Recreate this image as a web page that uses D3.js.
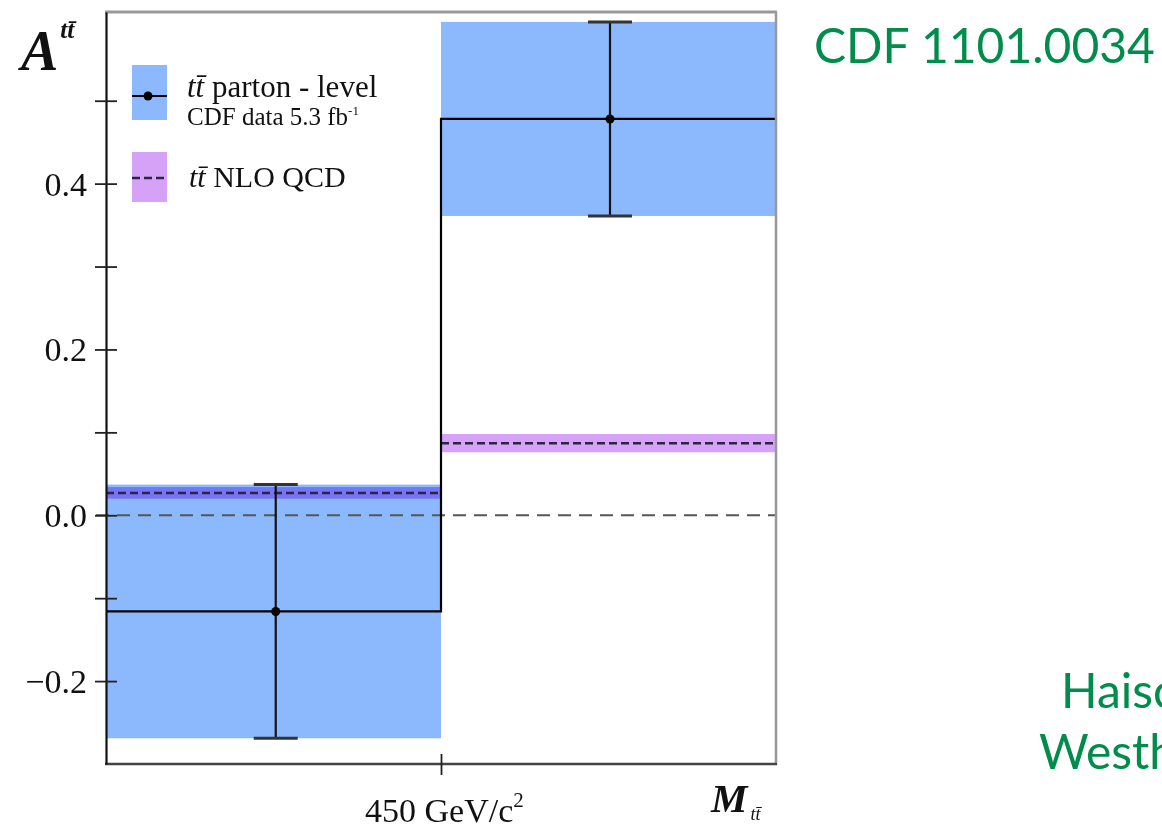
<!DOCTYPE html>
<html lang="en">
<head>
    <meta charset="UTF-8">
    <title>Top pair forward-backward asymmetry vs M_tt</title>
    <script src="https://d3js.org/d3.v7.min.js"></script>
    <style>
        body { margin: 0; background: #fff; }
        .serif { font-family: "Liberation Serif", "DejaVu Serif", serif; fill: #111; }
        .green { font-family: Lato, "Open Sans", sans-serif; fill: #008c4b; }
    </style>
</head>
<body>
<svg id="chart" width="1162" height="831"></svg>

<script>
    // mass bins (GeV/c^2)
    const binLo = [0, 450];
    const binHi = [450, 900];
    const pointX = [228, 677];
    // CDF parton-level asymmetry
    const asym = [-0.116, 0.478];
    const asymErr = [0.153, 0.117];
    // NLO QCD prediction
    const nlo = [0.027, 0.087];
    const nloErr = [0.007, 0.011];
    // y ticks
    const yTicks = [-0.2, -0.1, 0.0, 0.1, 0.2, 0.3, 0.4, 0.5];
    const yLabels = [-0.2, 0.0, 0.2, 0.4];
    const xTicks = [450];

    const svg = d3.select("#chart");

    const x = d3.scaleLinear().domain([0, 900]).range([106, 776]);
    const y = d3.scaleLinear().domain([-0.30, 0.607]).range([764, 12]);

    const bins = binLo.map((lo, i) => ({
        lo, hi: binHi[i], px: pointX[i],
        a: asym[i], e: asymErr[i], n: nlo[i], ne: nloErr[i]
    }));

    const blue = "#8cb8fd";
    const purple = "#d6a2f8";

    // data error bands
    svg.selectAll(".band")
        .data(bins)
        .enter().append("rect")
        .attr("class", "band")
        .attr("x", d => x(d.lo))
        .attr("width", d => x(d.hi) - x(d.lo))
        .attr("y", d => y(d.a + d.e))
        .attr("height", d => y(d.a - d.e) - y(d.a + d.e))
        .attr("fill", blue);

    // NLO bands
    svg.selectAll(".nloband")
        .data(bins)
        .enter().append("rect")
        .attr("class", "nloband")
        .attr("x", d => x(d.lo))
        .attr("width", d => x(d.hi) - x(d.lo))
        .attr("y", d => y(d.n + d.ne))
        .attr("height", d => y(d.n - d.ne) - y(d.n + d.ne))
        .attr("fill", purple)
        .style("mix-blend-mode", "multiply");

    // NLO dashed lines
    svg.selectAll(".nloline")
        .data(bins)
        .enter().append("line")
        .attr("x1", d => x(d.lo))
        .attr("x2", d => x(d.hi))
        .attr("y1", d => y(d.n))
        .attr("y2", d => y(d.n))
        .attr("stroke", "#2a2540")
        .attr("stroke-width", 2.5)
        .attr("stroke-dasharray", "8,4");

    // zero line
    svg.append("line")
        .attr("x1", x(0) - 10)
        .attr("x2", x(900))
        .attr("y1", y(0))
        .attr("y2", y(0))
        .attr("stroke", "#555")
        .attr("stroke-width", 2)
        .attr("stroke-dasharray", "13,8");

    // step histogram of data
    const stepPts = [];
    bins.forEach(d => {
        stepPts.push([x(d.lo), y(d.a)]);
        stepPts.push([x(d.hi), y(d.a)]);
    });
    svg.append("path")
        .attr("d", d3.line()(stepPts))
        .attr("fill", "none")
        .attr("stroke", "#000")
        .attr("stroke-width", 2.2);

    // error bars
    const eb = svg.selectAll(".eb")
        .data(bins)
        .enter().append("g");
    eb.append("line")
        .attr("x1", d => x(d.px)).attr("x2", d => x(d.px))
        .attr("y1", d => y(d.a + d.e)).attr("y2", d => y(d.a - d.e))
        .attr("stroke", "#111").attr("stroke-width", 2.2);
    eb.selectAll(".cap")
        .data(d => [[d.px, d.a + d.e], [d.px, d.a - d.e]])
        .enter().append("line")
        .attr("x1", d => x(d[0]) - 22).attr("x2", d => x(d[0]) + 22)
        .attr("y1", d => y(d[1])).attr("y2", d => y(d[1]))
        .attr("stroke", "#333").attr("stroke-width", 3);
    eb.append("circle")
        .attr("cx", d => x(d.px))
        .attr("cy", d => y(d.a))
        .attr("r", 4.5)
        .attr("fill", "#000");

    // frame
    svg.append("line").attr("x1", 105).attr("x2", 777).attr("y1", 12).attr("y2", 12)
        .attr("stroke", "#999").attr("stroke-width", 3);
    svg.append("line").attr("x1", 776).attr("x2", 776).attr("y1", 12).attr("y2", 765)
        .attr("stroke", "#999").attr("stroke-width", 2.5);
    svg.append("line").attr("x1", 105).attr("x2", 777).attr("y1", 764).attr("y2", 764)
        .attr("stroke", "#444").attr("stroke-width", 2.5);

    // y axis with ticks crossing the line
    const yAxis = svg.append("g")
        .attr("transform", "translate(106,0)")
        .call(d3.axisLeft(y).tickValues(yTicks).tickSize(10).tickSizeOuter(0).tickFormat(""));
    yAxis.select(".domain").attr("stroke", "#111").attr("stroke-width", 2.2);
    yAxis.selectAll(".tick line").attr("x2", 11).attr("x1", -11).attr("stroke", "#222").attr("stroke-width", 1.8);

    svg.selectAll(".ylab")
        .data(yLabels)
        .enter().append("text")
        .attr("class", "serif")
        .attr("x", 87)
        .attr("y", d => y(d) + 12)
        .attr("text-anchor", "end")
        .style("font-size", "34px")
        .text(d => d < 0 ? "\u2212" + Math.abs(d).toFixed(1) : d.toFixed(1));

    // x axis tick
    const xAxis = svg.append("g")
        .attr("transform", "translate(0,764)")
        .call(d3.axisBottom(x).tickValues(xTicks).tickSize(11).tickSizeOuter(0).tickFormat(""));
    xAxis.select(".domain").remove();
    xAxis.selectAll(".tick line").attr("y1", -10).attr("y2", 11).attr("stroke", "#222").attr("stroke-width", 1.8);

    const xl = svg.append("text")
        .attr("class", "serif")
        .attr("x", 365)
        .attr("y", 822)
        .style("font-size", "34px");
    xl.append("tspan").text(xTicks[0] + " GeV/c");
    xl.append("tspan").attr("dy", -15).style("font-size", "21px").text("2");

    // axis titles
    const yt = svg.append("text")
        .attr("class", "serif")
        .attr("x", 21)
        .attr("y", 70)
        .style("font-size", "56px")
        .style("font-weight", "bold")
        .style("font-style", "italic");
    yt.append("tspan").text("A");
    yt.append("tspan").attr("dy", -32).attr("dx", 2).style("font-size", "25px").text("tt\u0304");

    const xt = svg.append("text")
        .attr("class", "serif")
        .attr("x", 711)
        .attr("y", 812)
        .style("font-size", "41px")
        .style("font-weight", "bold")
        .style("font-style", "italic");
    xt.append("tspan").text("M");
    xt.append("tspan").attr("dy", 8).attr("dx", 3).style("font-size", "18px").style("font-weight", "normal").text("tt\u0304");

    // legend
    const lg = svg.append("g");
    lg.append("rect").attr("x", 132).attr("y", 65).attr("width", 35).attr("height", 55).attr("fill", blue);
    lg.append("line").attr("x1", 132).attr("x2", 167).attr("y1", 96).attr("y2", 96)
        .attr("stroke", "#000").attr("stroke-width", 2.2);
    lg.append("circle").attr("cx", 148).attr("cy", 96).attr("r", 4.5).attr("fill", "#000");
    lg.append("rect").attr("x", 132).attr("y", 152).attr("width", 35).attr("height", 50).attr("fill", purple);
    lg.append("line").attr("x1", 132).attr("x2", 167).attr("y1", 178).attr("y2", 178)
        .attr("stroke", "#2a2540").attr("stroke-width", 2.5).attr("stroke-dasharray", "8,4");

    const l1 = lg.append("text").attr("class", "serif").attr("x", 187).attr("y", 97).style("font-size", "31px");
    l1.append("tspan").style("font-style", "italic").text("tt\u0304");
    l1.append("tspan").text(" parton - level");
    const l2 = lg.append("text").attr("class", "serif").attr("x", 187).attr("y", 125).style("font-size", "25px");
    l2.append("tspan").text("CDF data 5.3 fb");
    l2.append("tspan").attr("dy", -10).style("font-size", "13px").text("-1");
    const l3 = lg.append("text").attr("class", "serif").attr("x", 189).attr("y", 187).style("font-size", "30px");
    l3.append("tspan").style("font-style", "italic").text("tt\u0304");
    l3.append("tspan").text(" NLO QCD");

    // slide annotations (author names run off the right edge, as on the slide)
    svg.append("text").attr("class", "green")
        .attr("x", 814).attr("y", 63)
        .style("font-size", "48px")
        .text("CDF 1101.0034");
    svg.append("text").attr("class", "green")
        .attr("x", 1061).attr("y", 708)
        .style("font-size", "48px")
        .text("Haisch");
    svg.append("text").attr("class", "green")
        .attr("x", 1039).attr("y", 769)
        .style("font-size", "48px")
        .text("Westhoff");
</script>
</body>
</html>
